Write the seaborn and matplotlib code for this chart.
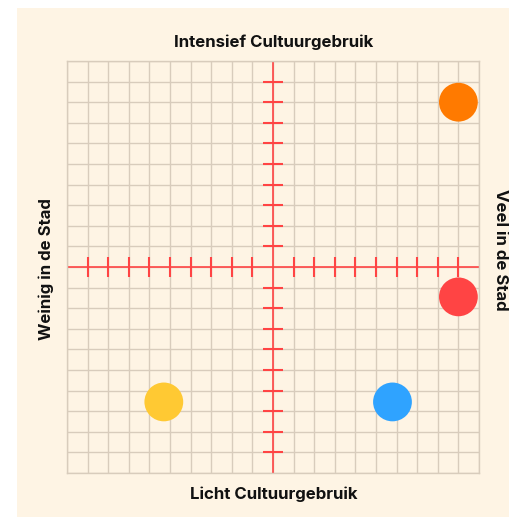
import seaborn as sns
import matplotlib.pyplot as plt
import numpy as np
import pandas as pd
from matplotlib.patches import Rectangle

# quadrant positions (x = veel/weinig in de stad, y = intensief/licht cultuurgebruik)
names = ["oranje", "rood", "blauw", "geel"]
x_vals = [9.0, 9.0, 5.8, -5.3]
y_vals = [8.0, -1.45, -6.55, -6.55]
colors = ["#FF7A00", "#FF4444", "#2FA3FF", "#FFC933"]

top_label = "Intensief Cultuurgebruik"
bottom_label = "Licht Cultuurgebruik"
left_label = "Weinig in de Stad"
right_label = "Veel in de Stad"

df = pd.DataFrame({"naam": names, "x": x_vals, "y": y_vals})

sns.set_style("white")
plt.rcParams['font.family'] = ['Inter', 'DejaVu Sans']

cream = "#FEF4E4"
red = "#FF4444"
grid_col = "#D8CCBC"
ink = "#111111"

fig = plt.figure(figsize=(5.1, 5.17), dpi=100)
fig.patch.set_facecolor("white")
fig.patches.append(Rectangle((17 / 510, 0), 1 - 17 / 510, 509 / 517,
                             transform=fig.transFigure, facecolor=cream,
                             edgecolor="none", zorder=-5))

ax = fig.add_axes([67 / 510, 44 / 517, 412 / 510, 412 / 517])
ax.set_facecolor(cream)
ax.set_xlim(-10, 10)
ax.set_ylim(-10, 10)
ax.set_xticks(np.arange(-10, 11))
ax.set_yticks(np.arange(-10, 11))
ax.grid(True, color=grid_col, lw=1)
ax.tick_params(length=0, labelbottom=False, labelleft=False)
for s in ax.spines.values():
    s.set_color(grid_col)
    s.set_linewidth(1)

# red cross with tick marks
ax.axhline(0, color=red, lw=1.2, zorder=2)
ax.axvline(0, color=red, lw=1.2, zorder=2)
ticks = np.r_[np.arange(-9, 0), np.arange(1, 10)]
ax.plot(ticks, np.zeros_like(ticks), ls="none", marker="|", ms=15, mew=1.5, color=red, zorder=2)
ax.plot(np.zeros_like(ticks), ticks, ls="none", marker="_", ms=15, mew=1.5, color=red, zorder=2)

sns.scatterplot(data=df, x="x", y="y", hue="naam", palette=colors, s=780,
                edgecolor="none", legend=False, ax=ax, zorder=3, clip_on=False)
ax.set_xlabel("")
ax.set_ylabel("")

fs = 12.1
kw = dict(ha="center", va="center", fontsize=fs, fontweight="bold", color=ink)
fig.text(274 / 510, 1 - 42 / 517, top_label, **kw)
fig.text(274 / 510, 1 - 494 / 517, bottom_label, **kw)
fig.text(46.5 / 510, 1 - 269 / 517, left_label, rotation=90, **kw)
fig.text(501 / 510, 1 - 250 / 517, right_label, rotation=270, **kw)

fig.savefig("out.png", dpi=100)
